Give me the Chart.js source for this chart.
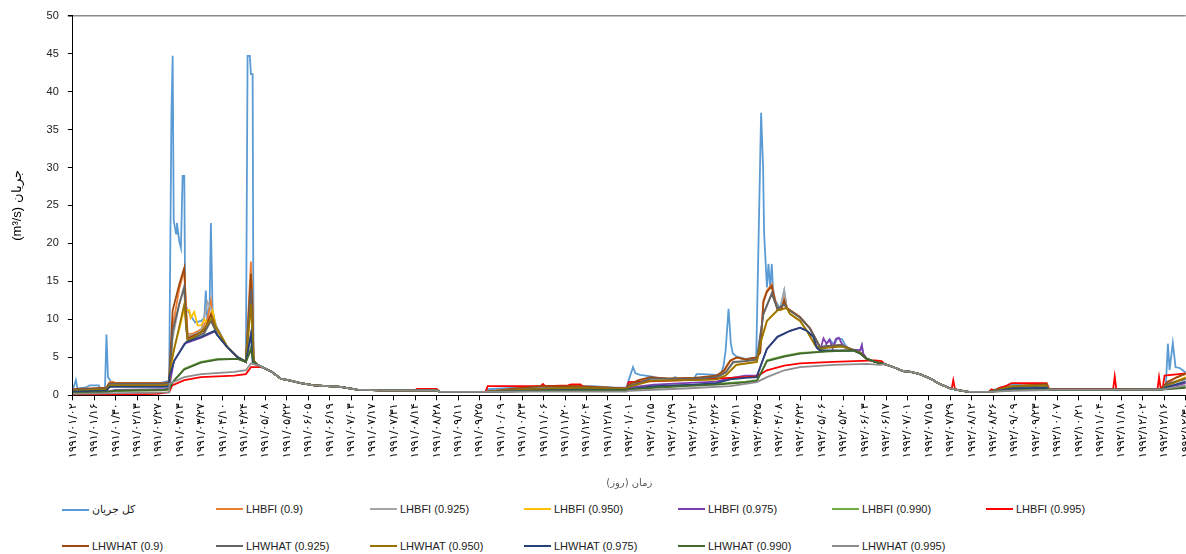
<!DOCTYPE html>
<html>
<head>
<meta charset="utf-8">
<script src="https://cdn.jsdelivr.net/npm/chart.js@4/dist/chart.umd.min.js"></script>
<style>
  body { margin: 0; background: #fff; overflow: hidden; }
  #wrap { position: relative; width: 1186px; height: 554px; overflow: hidden; }
  #box { position: absolute; left: 0; top: 0; width: 1202px; height: 492px; }
  .item { position: absolute; display: flex; align-items: center; font: 11px "Liberation Sans", Arial, sans-serif; color: #222; white-space: nowrap; }
  .item span.line { display: inline-block; width: 27px; height: 2px; margin-right: 3px; }
</style>
</head>
<body>
<div id="wrap">
  <div id="box"><canvas id="chart"></canvas></div>
  <div id="legend"></div>
</div>
<script>
// day index 0 = 1991/01/02, one tick every 14 days
const tickDays = [];
for (let d = 0; d <= 728; d += 14) tickDays.push(d);

const tickLabels = [
  "۱۹۹۱/۰۱/۰۲", "۱۹۹۱/۰۱/۱۶", "۱۹۹۱/۰۱/۳۰", "۱۹۹۱/۰۲/۱۳", "۱۹۹۱/۰۲/۲۷", "۱۹۹۱/۰۳/۱۳", "۱۹۹۱/۰۳/۲۷",
  "۱۹۹۱/۰۴/۱۰", "۱۹۹۱/۰۴/۲۴", "۱۹۹۱/۰۵/۰۸", "۱۹۹۱/۰۵/۲۲", "۱۹۹۱/۰۶/۰۵", "۱۹۹۱/۰۶/۱۹", "۱۹۹۱/۰۷/۰۳",
  "۱۹۹۱/۰۷/۱۷", "۱۹۹۱/۰۷/۳۱", "۱۹۹۱/۰۸/۱۴", "۱۹۹۱/۰۸/۲۸", "۱۹۹۱/۰۹/۱۱", "۱۹۹۱/۰۹/۲۵", "۱۹۹۱/۱۰/۰۹",
  "۱۹۹۱/۱۰/۲۳", "۱۹۹۱/۱۱/۰۶", "۱۹۹۱/۱۱/۲۰", "۱۹۹۱/۱۲/۰۴", "۱۹۹۱/۱۲/۱۸",
  "۱۹۹۲/۰۱/۰۱", "۱۹۹۲/۰۱/۱۵", "۱۹۹۲/۰۱/۲۹", "۱۹۹۲/۰۲/۱۲", "۱۹۹۲/۰۲/۲۶", "۱۹۹۲/۰۳/۱۱", "۱۹۹۲/۰۳/۲۵",
  "۱۹۹۲/۰۴/۰۸", "۱۹۹۲/۰۴/۲۲", "۱۹۹۲/۰۵/۰۶", "۱۹۹۲/۰۵/۲۰", "۱۹۹۲/۰۶/۰۳", "۱۹۹۲/۰۶/۱۷", "۱۹۹۲/۰۷/۰۱",
  "۱۹۹۲/۰۷/۱۵", "۱۹۹۲/۰۷/۲۹", "۱۹۹۲/۰۸/۱۲", "۱۹۹۲/۰۸/۲۶", "۱۹۹۲/۰۹/۰۹", "۱۹۹۲/۰۹/۲۳", "۱۹۹۲/۱۰/۰۷",
  "۱۹۹۲/۱۰/۲۱", "۱۹۹۲/۱۱/۰۴", "۱۹۹۲/۱۱/۱۸", "۱۹۹۲/۱۲/۰۲", "۱۹۹۲/۱۲/۱۶", "۱۹۹۲/۱۲/۳۰"
];

const seriesNames = [
  "کل جریان", "LHBFI (0.9)", "LHBFI (0.925)", "LHBFI (0.950)", "LHBFI (0.975)", "LHBFI (0.990)", "LHBFI (0.995)",
  "LHWHAT (0.9)", "LHWHAT (0.925)", "LHWHAT (0.950)", "LHWHAT (0.975)", "LHWHAT (0.990)", "LHWHAT (0.995)"
];

const seriesColors = [
  "#5B9BD5", "#ED7D31", "#A5A5A5", "#FFC000", "#7E3FB0", "#70AD47", "#FF0000",
  "#9E480E", "#636363", "#997300", "#264478", "#43682B", "#8C8C8C"
];

// parts where all series run on top of each other [day, m3/s]
const recessionA = [[121, 4.0], [126, 3.5], [130, 3.1], [136, 2.2], [143, 1.9], [149, 1.6], [158, 1.3], [175, 1.1], [186, 0.75], [201, 0.65]];
const baseA = [[238, 0.65], [240, 0.45], [270, 0.45]];
const recessionB = [[531, 4.1], [537, 3.7], [543, 3.2], [548, 3.1], [554, 2.8], [561, 2.2], [567, 1.5], [574, 0.9], [580, 0.65], [586, 0.45]];
const baseB = [[638.5, 0.75], [680, 0.75], [710, 0.78]];
const fallA = [[101.2, 6.3], [107.8, 5.0], [113.2, 4.4]];
const fallB = [[482.2, 8.8], [488.8, 6.3], [495, 6.5], [503, 6.6], [510, 6.0], [515, 5.6], [519.4, 4.8], [524.7, 4.4]];

const totalFlow = [
  [0, 0.8], [2, 2.0], [3, 0.9], [8, 1.0], [11, 1.3], [17, 1.3], [18, 0.8], [21, 0.8], [22, 8.0], [23, 2.4], [25, 1.8], [28, 1.5],
  [55, 1.5], [61, 1.8], [63, 1.9], [64.5, 37], [65.3, 44.7], [66, 23], [67.5, 21.3], [68.1, 22.7], [69.6, 20.3], [70.7, 19.4],
  [71.8, 28.9], [72.9, 28.9], [73.5, 12], [75.1, 11.2], [77, 10.5], [80, 9.6], [84, 9.8], [86, 10.2], [87, 13.8], [88, 9.6],
  [89.5, 12], [90.3, 22.7], [91.4, 11.2], [93.6, 9.2], ...fallA, [114.3, 44.7], [115.8, 44.7], [116.5, 42.3], [117.6, 42.3],
  [118.2, 4.6], [119.7, 4.2], ...recessionA, ...baseA,
  [271, 0.8], [300, 1.1], [320, 1.2], [340, 1.2], [355, 1.0], [362, 1.0], [363.6, 2.0], [366.4, 3.7], [368, 2.9], [371, 2.7],
  [378, 2.5], [384, 2.2], [391, 2.0], [394, 2.4], [397, 2.0], [406, 2.0], [408, 2.8], [412, 2.8], [421, 2.7], [423.4, 2.4],
  [425.6, 3.9], [427, 5.9], [428.9, 11.4], [430.4, 6.8], [431.7, 5.5], [434.3, 5.1], [440, 4.8], [447, 5.0], [448.5, 20],
  [450.2, 37.2], [451.5, 30], [452.2, 21.2], [454, 14.2], [455, 17.3], [456.1, 14.2], [457.2, 17.3], [457.9, 14.2], [459.4, 12.5],
  [462.7, 11.4], [465.3, 13.8], [467, 11.5], [475.7, 10.3], [482.2, 8.8], [488.8, 6.3], [492, 6.5], [495, 7.4], [498, 6.6],
  [500, 7.5], [503, 7.4], [506, 6.4], [510, 6.0], [515, 5.9], [516.1, 6.6], [517, 5.3], [519.4, 4.8], [524.7, 4.4], ...recessionB,
  [599, 0.45], [605, 0.9], [614, 1.4], [637, 1.4], [638.5, 0.75], [680, 0.75], [712, 0.8], [715, 1.5], [716.3, 6.8], [717.4, 3.3],
  [719.5, 6.9], [721.3, 3.7], [724, 3.6], [728, 3.0]
];

const lhbfi900 = [
  [0, 0.7], [20, 0.8], [22, 1.1], [24, 1.7], [26, 1.8], [28, 1.6], [60, 1.6], [63, 1.7], [65.3, 9], [69.6, 14], [72.9, 16.5],
  [74, 12], [75.1, 8], [79.4, 8.2], [84, 8.7], [88, 10], [90.3, 12.5], [91.4, 10.5], [93.6, 9.0], ...fallA, [116.5, 17.6],
  [117.6, 12], [118.2, 4.6], [119.7, 4.2], ...recessionA, ...baseA,
  [271, 0.5], [290, 0.9], [306, 1.2], [330, 1.2], [350, 1.0], [362, 0.9], [363.6, 1.3], [370, 1.9], [378, 2.3], [390, 2.2],
  [400, 2.3], [412, 2.3], [421, 2.6], [425.6, 3.0], [430, 4.5], [434.3, 5.0], [440, 4.7], [447.4, 5.0], [449.6, 5.6],
  [451.7, 12.5], [454, 13.8], [457.2, 14.6], [458.3, 13.4], [460.9, 11.4], [463.5, 11.4], [465.3, 13.0], [467, 11.5],
  [475.7, 10.3], ...fallB, ...recessionB,
  [599, 0.45], [610, 1.0], [620, 1.3], [637, 1.4], ...baseB, [712, 0.9], [716, 1.6], [722, 2.4], [728, 2.8]
];

const lhbfi925 = [
  [0, 0.6], [22, 0.9], [26, 1.5], [60, 1.5], [63, 1.6], [65.3, 7.5], [69.6, 12], [72.9, 14.5], [74, 10], [75.1, 7.8], [79.4, 8],
  [84, 8.5], [88, 12.3], [90.3, 11.5], [91.4, 10], [93.6, 9.0], ...fallA, [116.5, 15], [117.6, 10], [118.2, 4.6], [119.7, 4.2],
  ...recessionA, ...baseA,
  [271, 0.5], [300, 0.8], [330, 0.9], [362, 0.8], [363.6, 1.2], [378, 2.0], [400, 2.1], [421, 2.3], [427, 3.0], [432, 4.3],
  [440, 4.5], [447.4, 4.8], [451.7, 10.7], [457.2, 13.4], [460.9, 11.4], [463, 11.6], [465.3, 13.8], [467, 11.5], [475.7, 10.3],
  ...fallB, ...recessionB,
  [599, 0.45], [612, 1.0], [637, 1.3], ...baseB, [712, 0.8], [716, 1.4], [728, 2.1]
];

const lhbfi950 = [
  [0, 0.6], [22, 0.8], [26, 1.3], [60, 1.3], [63, 1.5], [66, 6], [70, 9], [73, 11.5], [75.1, 11.2], [76.2, 11.2], [77, 10.2],
  [79.4, 11], [81.6, 9.2], [84, 9.2], [86, 10], [88, 9.5], [91.4, 11.2], [93.6, 9.0], ...fallA, [116.5, 12], [117.6, 8],
  [118.2, 4.6], [119.7, 4.2], ...recessionA, ...baseA,
  [271, 0.5], [300, 0.8], [330, 1.0], [362, 0.8], [363.6, 1.1], [378, 1.9], [400, 2.0], [421, 2.1], [427, 2.6], [434, 4.0],
  [447.4, 4.4], [450.2, 7.2], [454, 9.8], [460.9, 11.2], [467, 11.5], [469.2, 10.7], [475.7, 9.8], [480.1, 8.5], [485.5, 6.6],
  [488.8, 6.1], [495, 6.4], [503, 6.5], [510, 6.0], [515, 5.6], [519.4, 4.8], [524.7, 4.4], ...recessionB,
  [599, 0.45], [615, 1.2], [637, 1.3], ...baseB, [712, 0.8], [716, 1.4], [728, 2.4]
];

const lhbfi975 = [
  [0, 0.4], [22, 0.5], [28, 0.7], [60, 0.8], [63, 1.0], [66, 4.4], [73, 6.8], [84, 7.6], [93, 8.4], [94.7, 7.9], ...fallA,
  [116.5, 8], [117.6, 6], [118.2, 4.6], [119.7, 4.2], ...recessionA, ...baseA,
  [271, 0.5], [300, 0.7], [330, 0.8], [362, 0.8], [363.6, 1.0], [380, 1.4], [400, 1.6], [421, 1.8], [428, 2.2], [440, 2.6],
  [447.4, 2.6], [449.6, 3.7], [454, 6.1], [460.9, 7.7], [469.2, 8.5], [475.7, 8.9], [480.1, 8.5], [484.4, 7.7], [486.5, 6.3],
  [488.8, 5.9], [491, 7.5], [493, 6.8], [495, 7.3], [497, 6.2], [499, 7.4], [501, 7.6], [503, 6.8], [505, 6.3], [510, 6.0],
  [515, 5.9], [516.1, 6.6], [517, 5.5], [519.4, 4.8], [524.7, 4.4], ...recessionB,
  [599, 0.45], [615, 0.8], [637, 0.9], ...baseB, [712, 0.75], [716, 1.0], [728, 1.6]
];

const lhbfi990 = [
  [0, 0.3], [22, 0.4], [28, 0.6], [60, 0.7], [63, 0.8], [66, 1.9], [72.9, 3.5], [83.8, 4.4], [94.7, 4.8], [107.8, 4.8],
  [113.2, 4.4], [116.5, 6.3], [117.6, 5], [118.2, 4.4], [119.7, 4.2], ...recessionA, ...baseA,
  [271, 0.45], [300, 0.6], [330, 0.7], [362, 0.75], [363.6, 0.8], [380, 1.1], [400, 1.3], [421, 1.5], [440, 1.8], [447.4, 2.0],
  [449.6, 2.8], [454, 4.6], [465.3, 5.2], [475.7, 5.6], [493.2, 5.8], [510.6, 5.9], [515, 5.5], [519.4, 4.8], [524.7, 4.4],
  ...recessionB,
  [599, 0.45], [615, 0.7], [637, 0.75], ...baseB, [712, 0.75], [728, 1.1]
];

const lhbfi995 = [
  [0, 0.05], [30, 0.1], [55, 0.2], [63, 0.4], [65, 1.3], [72.9, 2.0], [83.8, 2.4], [105.6, 2.6], [113.2, 2.8], [116.5, 3.7],
  [123, 3.7], [126.3, 3.5], [130, 3.1], [136, 2.2], [143, 1.9], [149, 1.6], [158, 1.3], [175, 1.1], [186, 0.75], [201, 0.65],
  [224, 0.65], [225, 0.83], [238, 0.83], [240, 0.45], [270, 0.45],
  [271.3, 1.2], [306, 1.2], [307.5, 1.5], [309, 1.2], [324, 1.3], [326, 1.45], [332, 1.45], [334, 1.1], [340, 1.0], [352, 0.75],
  [362, 0.6], [363.6, 1.75], [400, 2.0], [440, 2.4], [447.4, 2.5], [454, 3.3], [465.3, 3.9], [475.7, 4.2], [497.5, 4.4],
  [524.7, 4.6], [529, 4.5], [531, 4.1], [537, 3.7], [543, 3.2], [548, 3.1], [554, 2.8], [561, 2.2], [567, 1.5], [574, 0.9],
  [575, 1.0], [575.9, 2.0], [577, 0.85], [580, 0.65], [586, 0.45],
  [599, 0.45], [601, 0.8], [603, 0.6], [606, 1.0], [610, 1.2], [614, 1.6], [637, 1.6], [638.5, 0.85], [680.5, 0.85],
  [681.5, 2.5], [682.5, 0.85], [709.5, 0.85], [710.5, 2.4], [711.5, 1.0], [713, 1.1], [714.1, 2.6], [728, 2.9]
];

const lhwhat900 = [
  [0, 0.8], [22, 1.0], [24, 1.6], [60, 1.65], [63, 1.7], [63.1, 2.6], [65.3, 11.2], [69.6, 14.6], [72.9, 16.8], [74, 11],
  [75.1, 7.5], [79.4, 7.9], [86, 8.5], [90.3, 10.7], [92.5, 9.0], [94.7, 7.9], ...fallA, [116.5, 16], [117.6, 11],
  [118.2, 4.6], [119.7, 4.2], ...recessionA, ...baseA,
  [271, 0.5], [290, 0.9], [306, 1.2], [330, 1.2], [350, 1.0], [362, 0.9], [363.6, 1.4], [370, 2.0], [378, 2.4], [390, 2.2],
  [406, 2.3], [421, 2.6], [425.6, 3.2], [430, 4.6], [434.3, 5.0], [440, 4.7], [447.4, 5.0], [449.6, 5.6], [451.7, 12.3],
  [454, 13.6], [457.2, 14.4], [458.3, 13.2], [460.9, 11.3], [463.5, 11.3], [465.3, 12.5], [467, 11.5], [475.7, 10.3],
  ...fallB, ...recessionB,
  [599, 0.45], [612, 1.1], [637, 1.5], ...baseB, [712, 0.8], [716, 1.8], [728, 2.9]
];

const lhwhat925 = [
  [0, 0.7], [22, 0.9], [24, 1.5], [60, 1.5], [63, 1.6], [65.3, 8.5], [69.6, 12], [72.9, 14.2], [74, 9], [75.1, 7.2], [79.4, 7.6],
  [86, 8.2], [90.3, 9.8], [92.5, 8.9], [94.7, 7.9], ...fallA, [116.5, 14], [117.6, 9], [118.2, 4.6], [119.7, 4.2],
  ...recessionA, ...baseA,
  [271, 0.5], [300, 0.9], [330, 1.0], [362, 0.85], [363.6, 1.2], [378, 2.2], [406, 2.2], [421, 2.4], [427, 3.0], [432, 4.4],
  [440, 4.5], [447.4, 4.7], [451.7, 10.7], [457.2, 13.4], [460.9, 11.4], [465.3, 12], [467, 11.4], [475.7, 10.2],
  ...fallB, ...recessionB,
  [599, 0.45], [612, 1.0], [637, 1.3], ...baseB, [712, 0.8], [716, 1.5], [728, 2.2]
];

const lhwhat950 = [
  [0, 0.6], [22, 0.8], [24, 1.3], [60, 1.3], [63, 1.4], [64.2, 4.2], [72.9, 12], [75.1, 7.2], [83.8, 8.3], [91.4, 10.3],
  [93.6, 9.0], ...fallA, [116.5, 12], [117.6, 8], [118.2, 4.6], [119.7, 4.2], ...recessionA, ...baseA,
  [271, 0.5], [300, 0.8], [330, 1.0], [362, 0.8], [363.6, 1.1], [378, 1.9], [406, 2.0], [421, 2.1], [427, 2.6], [434, 4.0],
  [447.4, 4.4], [450.2, 7.2], [454, 9.8], [460.9, 11.2], [467, 11.5], [469.2, 10.7], [475.7, 9.8], [480.1, 8.5], [485.5, 6.6],
  [488.8, 6.1], [495, 6.3], [503, 6.4], [510, 6.0], [515, 5.6], [519.4, 4.8], [524.7, 4.4], ...recessionB,
  [599, 0.45], [615, 1.2], [637, 1.3], ...baseB, [712, 0.8], [716, 1.3], [728, 2.3]
];

const lhwhat975 = [
  [0, 0.5], [22, 0.6], [24, 1.1], [60, 1.1], [63, 1.2], [63.1, 2.4], [66.4, 4.6], [74, 7.0], [83.8, 7.7], [92.5, 8.5],
  [94.7, 7.9], ...fallA, [116.5, 8.1], [117.6, 4.4], [119.7, 4.2], ...recessionA, ...baseA,
  [271, 0.45], [300, 0.6], [330, 0.75], [362, 0.7], [363.6, 0.8], [380, 1.2], [406, 1.4], [421, 1.6], [430, 2.1], [440, 2.3],
  [447.4, 2.4], [449.6, 3.7], [454, 6.1], [460.9, 7.7], [469.2, 8.5], [475.7, 8.9], [480.1, 8.5], [484.4, 7.7], [486.5, 6.3],
  [488.8, 5.9], [510.6, 5.9], [515, 5.5], [519.4, 4.8], [524.7, 4.4], ...recessionB,
  [599, 0.45], [615, 0.9], [637, 1.0], ...baseB, [712, 0.75], [716, 1.1], [728, 1.8]
];

const lhwhat990 = [
  [0, 0.3], [22, 0.45], [28, 0.6], [60, 0.7], [63, 0.8], [66, 1.9], [72.9, 3.4], [83.8, 4.3], [94.7, 4.7], [107.8, 4.8],
  [113.2, 4.4], [116.5, 6.0], [117.6, 5], [118.2, 4.4], [119.7, 4.2], ...recessionA, ...baseA,
  [271, 0.45], [300, 0.55], [330, 0.65], [362, 0.7], [363.6, 0.75], [380, 1.0], [400, 1.2], [421, 1.4], [440, 1.7], [447.4, 1.9],
  [449.6, 2.7], [454, 4.5], [465.3, 5.1], [475.7, 5.5], [493.2, 5.8], [510.6, 5.9], [515, 5.5], [519.4, 4.8], [524.7, 4.4],
  ...recessionB,
  [599, 0.45], [615, 0.7], [637, 0.75], ...baseB, [712, 0.75], [728, 1.0]
];

const lhwhat995 = [
  [0, 0.2], [30, 0.3], [63, 0.4], [63.1, 1.5], [72.9, 2.4], [83.8, 2.8], [105.6, 3.1], [113.2, 3.3], [116.5, 4.2], [119.7, 4.0],
  ...recessionA, ...baseA,
  [271, 0.45], [300, 0.5], [362, 0.5], [363.6, 0.6], [400, 0.9], [430, 1.2], [447.4, 1.75], [454, 2.4], [465.3, 3.3],
  [475.7, 3.7], [497.5, 4.0], [519.4, 4.15], [528, 4.0], ...recessionB,
  [599, 0.45], [615, 0.6], [637, 0.7], ...baseB, [712, 0.75], [728, 1.3]
];

const seriesData = [
  totalFlow, lhbfi900, lhbfi925, lhbfi950, lhbfi975, lhbfi990, lhbfi995,
  lhwhat900, lhwhat925, lhwhat950, lhwhat975, lhwhat990, lhwhat995
];

const datasets = seriesData.map((arr, i) => ({
  label: seriesNames[i],
  data: arr.map(([x, y]) => ({ x, y })),
  borderColor: seriesColors[i],
  backgroundColor: seriesColors[i],
  borderWidth: 1.8,
  pointRadius: 0,
  tension: 0,
  // later series on top, like the original
  order: seriesData.length - i
}));

new Chart(document.getElementById("chart"), {
  type: "line",
  data: { datasets },
  options: {
    responsive: true,
    maintainAspectRatio: false,
    animation: false,
    layout: { padding: { top: 8, right: -11, left: 6, bottom: -1 } },
    plugins: { legend: { display: false }, tooltip: { enabled: false } },
    scales: {
      x: {
        type: "linear",
        min: 0,
        max: 728,
        afterBuildTicks: axis => {
          axis.ticks = tickDays.map(v => ({ value: v }));
        },
        ticks: {
          autoSkip: false,
          maxRotation: 90,
          minRotation: 90,
          padding: 3,
          color: "#000",
          font: { family: "DejaVu Sans", size: 11 },
          callback: (value, index) => tickLabels[index]
        },
        grid: { drawOnChartArea: false, drawTicks: true, tickLength: 5, color: "#000" },
        border: { color: "#000", width: 1 },
        title: {
          display: true,
          text: "زمان (روز)",
          color: "#595959",
          font: { family: "DejaVu Sans", size: 10 },
          padding: { top: 16 }
        }
      },
      y: {
        min: 0,
        max: 50,
        ticks: {
          stepSize: 5,
          color: "#222",
          padding: 9,
          font: { family: "Liberation Sans", size: 11 }
        },
        grid: {
          color: ctx => (ctx.tick && ctx.tick.value === 50 ? "#8c8c8c" : "rgba(0,0,0,0)"),
          tickColor: "#000",
          tickLength: 5,
          lineWidth: ctx => (ctx.tick && ctx.tick.value === 50 ? 1.5 : 1)
        },
        border: { color: "#000", width: 1 },
        title: {
          display: true,
          text: "(m³/s) جریان",
          color: "#000",
          font: { family: "Liberation Sans", size: 13 },
          padding: { bottom: 12 }
        }
      }
    }
  }
});

// legend laid out as a grid, like the original
const legendEl = document.getElementById("legend");
seriesNames.forEach((name, i) => {
  const row = i < 7 ? 0 : 1;
  const col = i < 7 ? i : i - 7;
  const item = document.createElement("div");
  item.className = "item";
  item.style.left = (62 + col * 154) + "px";
  item.style.top = (row === 0 ? 503 : 540) + "px";
  item.innerHTML = '<span class="line" style="background:' + seriesColors[i] + '"></span><span></span>';
  item.lastChild.textContent = name;
  legendEl.appendChild(item);
});
</script>
</body>
</html>
